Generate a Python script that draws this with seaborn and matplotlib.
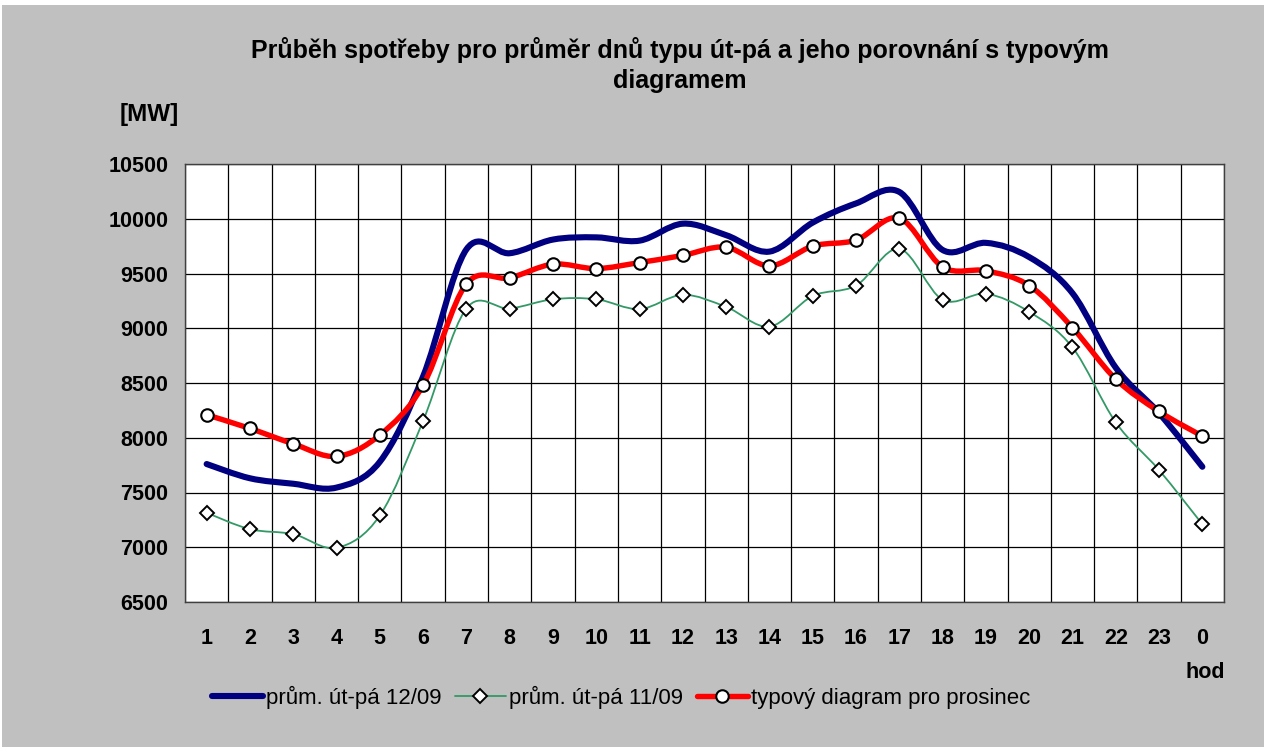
import numpy as np
import pandas as pd
import matplotlib
matplotlib.use('Agg')
import matplotlib.pyplot as plt
import seaborn as sns
from matplotlib.path import Path
from matplotlib.patches import PathPatch, Rectangle
from matplotlib.lines import Line2D

hodiny = ['1', '2', '3', '4', '5', '6', '7', '8', '9', '10', '11', '12',
          '13', '14', '15', '16', '17', '18', '19', '20', '21', '22', '23', '0']
prum_12_09 = [7760, 7630, 7580, 7545, 7780, 8560, 9720, 9685, 9810, 9830, 9800, 9955,
              9850, 9700, 9965, 10140, 10245, 9715, 9780, 9650, 9320, 8640, 8225, 7735]
prum_11_09 = [7315, 7165, 7120, 6995, 7290, 8155, 9180, 9180, 9265, 9265, 9175, 9305,
              9195, 9015, 9295, 9390, 9725, 9260, 9315, 9150, 8825, 8140, 7705, 7210]
typovy = [8210, 8085, 7945, 7830, 8025, 8480, 9405, 9460, 9585, 9545, 9600, 9665,
          9740, 9570, 9750, 9805, 10005, 9560, 9525, 9390, 9005, 8535, 8240, 8015]

df = pd.DataFrame({'x': np.arange(len(hodiny)), 'hod': hodiny,
                   '12/09': prum_12_09, '11/09': prum_11_09, 'typ': typovy})

BLUE = '#000080'
GREEN = '#339966'
RED = '#FF0000'
GREY = '#C0C0C0'


def hladka_cara(ax, xs, ys, color, lw):
    # Excel-like smoothed line: cubic bezier segments between the points
    pts = np.column_stack([xs, ys]).astype(float)
    n = len(pts)
    verts = [pts[0]]
    codes = [Path.MOVETO]
    for i in range(n - 1):
        p0 = pts[i - 1] if i > 0 else pts[i]
        p1 = pts[i]
        p2 = pts[i + 1]
        p3 = pts[i + 2] if i + 2 < n else pts[i + 1]
        verts += [p1 + (p2 - p0) / 6, p2 - (p3 - p1) / 6, p2]
        codes += [Path.CURVE4] * 3
    patch = PathPatch(Path(verts, codes), facecolor='none', edgecolor=color,
                      lw=lw, capstyle='round', joinstyle='round', zorder=3)
    ax.add_patch(patch)


sns.set_style('white')
plt.rcParams['font.family'] = ['Liberation Sans', 'DejaVu Sans']
plt.rcParams['text.color'] = 'black'
plt.rcParams['xtick.color'] = 'black'
plt.rcParams['ytick.color'] = 'black'

fig = plt.figure(figsize=(12.64, 7.47), dpi=100)
fig.patch.set_facecolor('white')
fig.add_artist(Rectangle((2 / 1264, 0), 1, 742 / 747, transform=fig.transFigure,
                         facecolor=GREY, edgecolor='none', zorder=0))

ax = fig.add_axes([185 / 1264, 1 - 602 / 747, (1224 - 185) / 1264, (602 - 164) / 747])
ax.set_facecolor('white')

hladka_cara(ax, df['x'], df['12/09'], BLUE, 4.4)
hladka_cara(ax, df['x'], df['11/09'], GREEN, 1.3)
hladka_cara(ax, df['x'], df['typ'], RED, 3.9)

sns.lineplot(data=df, x='x', y='11/09', ax=ax, linestyle='', marker='D', markersize=7,
             markerfacecolor='white', markeredgecolor='black', markeredgewidth=1.4, zorder=4)
sns.lineplot(data=df, x='x', y='typ', ax=ax, linestyle='', marker='o', markersize=9,
             markerfacecolor='white', markeredgecolor='black', markeredgewidth=1.5, zorder=5)

ax.set_xlim(-0.5, len(hodiny) - 0.5)
ax.set_ylim(6500, 10500)
ax.set_yticks(np.arange(6500, 10501, 500))
ax.set_xticks(df['x'])
ax.set_xticklabels(hodiny)
ax.set_xticks(np.arange(-0.5, len(hodiny), 1), minor=True)
ax.grid(True, which='minor', axis='x', color='black', lw=0.9)
ax.grid(True, which='major', axis='y', color='black', lw=0.9)
ax.tick_params(axis='x', which='major', length=0, pad=18.5)
ax.tick_params(axis='x', which='minor', length=6, width=0.9, color='#404040', direction='out')
ax.tick_params(axis='y', length=7, width=0.9, color='#404040', direction='out', pad=5)
ax.tick_params(labelsize=15.5)
for lab in ax.get_xticklabels() + ax.get_yticklabels():
    lab.set_fontweight('bold')
ax.set_xlabel('')
ax.set_ylabel('')
for s in ax.spines.values():
    s.set_color('#404040')
    s.set_linewidth(1.0)

fig.text(680 / 1264, 1 - 50 / 747, 'Průběh spotřeby pro průměr dnů typu út-pá a jeho porovnání s typovým',
         ha='center', va='center', fontsize=18, fontweight='bold')
fig.text(680 / 1264, 1 - 81 / 747, 'diagramem', ha='center', va='center', fontsize=18, fontweight='bold')
fig.text(149 / 1264, 1 - 115 / 747, '[MW]', ha='center', va='center', fontsize=17.5, fontweight='bold')
fig.text(1205 / 1264, 1 - 673 / 747, 'hod', ha='center', va='center', fontsize=15.5, fontweight='bold')

handles = [
    Line2D([], [], color=BLUE, lw=4.4, solid_capstyle='round'),
    Line2D([], [], color=GREEN, lw=1.3, marker='D', markersize=7, markerfacecolor='white',
           markeredgecolor='black', markeredgewidth=1.4),
    Line2D([], [], color=RED, lw=3.9, marker='o', markersize=9, markerfacecolor='white',
           markeredgecolor='black', markeredgewidth=1.5, solid_capstyle='round'),
]
labels = ['prům. út-pá 12/09', 'prům. út-pá 11/09', 'typový diagram pro prosinec']
fig.legend(handles, labels, loc='center', bbox_to_anchor=(621 / 1264, 1 - 697 / 747),
           ncol=3, frameon=False, fontsize=16, handlelength=2.3, handletextpad=0.15,
           columnspacing=0.6)

fig.savefig('out.png', dpi=100, facecolor=fig.get_facecolor())
